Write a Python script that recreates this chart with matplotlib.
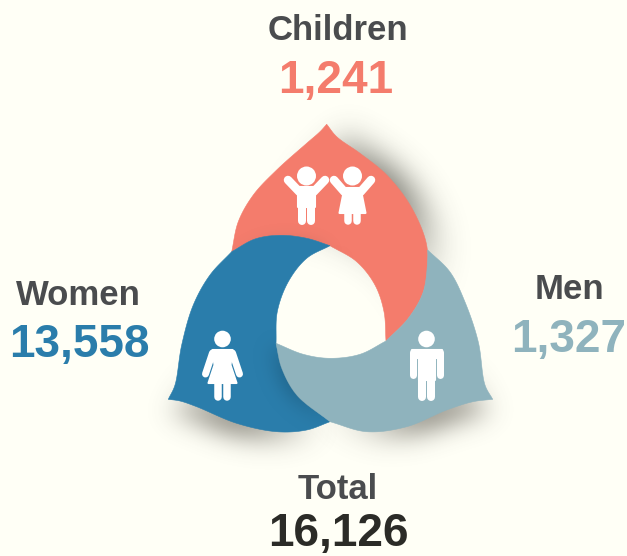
import numpy as np
import matplotlib
matplotlib.use("Agg")
import matplotlib.pyplot as plt
from matplotlib.path import Path
from matplotlib.patches import PathPatch, Circle, Polygon

### DATA

labels = ["Children", "Women", "Men", "Total"]
values = [1241, 13558, 1327, 16126]
value_colors = ["#f47c6c", "#2a7dab", "#8fb3bd", "#2b2b27"]

BG = "#fffff6"
RED, BLUE, TEAL = "#f47c6c", "#2a7dab", "#8fb3bd"
W, H = 627, 556

plt.rcParams["font.family"] = ["Liberation Sans", "DejaVu Sans"]

### UTIL

def spline(pts, n=24):
    """Centripetal Catmull-Rom curve through the given points."""
    p = np.array(pts, dtype=float)
    p = np.vstack([2 * p[0] - p[1], p, 2 * p[-1] - p[-2]])
    out = []
    for i in range(1, len(p) - 2):
        p0, p1, p2, p3 = p[i - 1], p[i], p[i + 1], p[i + 2]
        t0 = 0.0
        t1 = t0 + np.linalg.norm(p1 - p0) ** 0.5
        t2 = t1 + np.linalg.norm(p2 - p1) ** 0.5
        t3 = t2 + np.linalg.norm(p3 - p2) ** 0.5
        t = np.linspace(t1, t2, n, endpoint=False)[:, None]
        a1 = (t1 - t) / (t1 - t0) * p0 + (t - t0) / (t1 - t0) * p1
        a2 = (t2 - t) / (t2 - t1) * p1 + (t - t1) / (t2 - t1) * p2
        a3 = (t3 - t) / (t3 - t2) * p2 + (t - t2) / (t3 - t2) * p3
        b1 = (t2 - t) / (t2 - t0) * a1 + (t - t0) / (t2 - t0) * a2
        b2 = (t3 - t) / (t3 - t1) * a2 + (t - t1) / (t3 - t1) * a3
        out.append((t2 - t) / (t2 - t1) * b1 + (t - t1) / (t2 - t1) * b2)
    out.append(p[-2][None, :])
    return np.vstack(out)

def outline(*segments):
    return np.vstack([spline(s) for s in segments])

def blur(a, sigma):
    r = int(3 * sigma)
    k = np.exp(-0.5 * (np.arange(-r, r + 1) / sigma) ** 2)
    k /= k.sum()
    a = np.array([np.convolve(row, k, mode="same") for row in a])
    return np.array([np.convolve(col, k, mode="same") for col in a.T]).T

yy, xx = np.mgrid[0:H, 0:W]
grid = np.column_stack([xx.ravel() + 0.5, yy.ravel() + 0.5])

def mask_of(poly, dx=0, dy=0):
    return Path(poly + [dx, dy]).contains_points(grid).reshape(H, W).astype(float)

def blob(cx, cy, sx, sy):
    return np.exp(-0.5 * (((xx - cx) / sx) ** 2 + ((yy - cy) / sy) ** 2))

def overlay(ax, alpha, color, clip=None, zorder=1):
    rgba = np.zeros((H, W, 4))
    rgba[..., :3] = matplotlib.colors.to_rgb(color)
    rgba[..., 3] = np.clip(alpha, 0, 1)
    im = ax.imshow(rgba, extent=(0, W, H, 0), zorder=zorder, interpolation="bilinear", aspect="auto")
    if clip is not None:
        im.set_clip_path(clip)

def limb(ax, pts, width):
    x, y = zip(*pts)
    ax.plot(x, y, color="white", lw=width * 0.72, solid_capstyle="round",
            solid_joinstyle="round", zorder=6)

def poly(ax, pts):
    ax.add_patch(Polygon(pts, closed=True, fc="white", ec="white", lw=1.5, joinstyle="round", zorder=6))

def head(ax, x, y, r):
    ax.add_patch(Circle((x, y), r, fc="white", ec="none", zorder=6))

def draw_man(ax, x):
    head(ax, x, 339, 8.3)
    poly(ax, [(x - 15, 350), (x + 15, 350), (x + 15, 358), (x + 8, 358), (x + 8, 380), (x - 8, 380), (x - 8, 358), (x - 15, 358)])
    limb(ax, [(x - 13.5, 352), (x - 13.5, 375)], 7)
    limb(ax, [(x + 13.5, 352), (x + 13.5, 375)], 7)
    limb(ax, [(x - 4.5, 375), (x - 4.5, 397)], 8)
    limb(ax, [(x + 4.5, 375), (x + 4.5, 397)], 8)

def draw_woman(ax, x):
    head(ax, x, 339, 8.3)
    poly(ax, [(x - 10, 350), (x + 10, 350), (x + 8, 365), (x + 14, 383), (x - 14, 383), (x - 8, 365)])
    limb(ax, [(x - 10, 353), (x - 17, 374)], 7)
    limb(ax, [(x + 10, 353), (x + 17, 374)], 7)
    limb(ax, [(x - 4.5, 380), (x - 4.5, 397)], 7.5)
    limb(ax, [(x + 4.5, 380), (x + 4.5, 397)], 7.5)

def draw_boy(ax, x):
    head(ax, x, 176, 9.5)
    limb(ax, [(x - 18.5, 180), (x - 7, 192)], 8.5)
    limb(ax, [(x + 18.5, 180), (x + 7, 192)], 8.5)
    poly(ax, [(x - 8.5, 187), (x + 8.5, 187), (x + 8.5, 207), (x - 8.5, 207)])
    limb(ax, [(x - 4.8, 200), (x - 4.8, 220.5)], 8)
    limb(ax, [(x + 4.8, 200), (x + 4.8, 220.5)], 8)

def draw_girl(ax, x):
    head(ax, x, 176, 9.5)
    limb(ax, [(x - 18.5, 180), (x - 8, 192)], 8.5)
    limb(ax, [(x + 18.5, 180), (x + 8, 192)], 8.5)
    poly(ax, [(x - 8, 188), (x + 8, 188), (x + 13, 213), (x - 13, 213)])
    limb(ax, [(x - 4.5, 211), (x - 4.5, 220.5)], 7.5)
    limb(ax, [(x + 4.5, 211), (x + 4.5, 220.5)], 7.5)

### SHAPES (image pixel positions)

red_right = [(326.7, 124.3), (336.7, 136.7), (360, 153.3), (386.7, 175), (410, 205), (425, 238.3),
             (427.7, 258.3), (423.3, 291.7), (408.3, 318.3), (386, 341)]
red_inner = [(386, 341), (384, 311.7), (375, 285), (356.7, 261.7), (330, 245.7)]
blue_top = [(330, 245.7), (306.7, 238.3), (280, 235.3), (255, 239), (231.7, 251.7)]
red_left = [(231.7, 251.7), (238.3, 221.7), (253.3, 195), (276.7, 170), (306.7, 143.3), (320, 131.7), (326.7, 124.3)]
blue_left = [(168.3, 399.3), (175, 385), (181.7, 345), (193.3, 305), (210, 275), (231.7, 251.7)]
blue_inner = [(330, 245.7), (306.7, 258.3), (288.3, 281.7), (277.3, 311.7), (276, 343.3)]
teal_edge = [(276, 343.3), (281.7, 368.3), (296.7, 395), (330, 421.7)]
blue_bottom = [(330, 421.7), (306.7, 430), (276.7, 431.7), (236.7, 423.3), (196.7, 406.7), (180, 401), (168.3, 399.3)]
teal_right = [(492.7, 399.3), (485, 385), (478.3, 342), (465, 302), (450, 272), (427.7, 250)]
teal_top = [(427.7, 250), (427.7, 258.3), (423.3, 291.7), (408.3, 318.3), (386, 341)]
teal_inner = [(386, 341), (360, 354.3), (330, 358.3), (303.3, 354.3), (276, 343.3)]
teal_bottom = [(330, 421.7), (366.7, 431.7), (406.7, 426.7), (446.7, 410), (473, 401.7), (492.7, 399.3)]

red = outline(red_right, red_inner, blue_top, red_left)
blue = outline(blue_left, blue_top[::-1], blue_inner, teal_edge, blue_bottom)
teal = outline(teal_right, teal_top, teal_inner, teal_edge, teal_bottom)

### PLOT

fig = plt.figure(figsize=(W / 100, H / 100), dpi=100, facecolor=BG)
ax = fig.add_axes([0, 0, 1, 1])
ax.set_xlim(0, W)
ax.set_ylim(H, 0)
ax.axis("off")

# soft drop shadows behind the petals
overlay(ax, 0.68 * blur(mask_of(red, 18, 5), 16) * blob(392, 170, 52, 62), "#3c3c34")
overlay(ax, 0.6 * blur(mask_of(blue, 0, 14), 14) * blob(220, 428, 52, 26), "#4a463c")
overlay(ax, 0.6 * blur(mask_of(teal, 0, 14), 14) * blob(445, 423, 50, 26), "#4a463c")

patches = {}
for name, shape, col in [("red", red, RED), ("blue", blue, BLUE), ("teal", teal, TEAL)]:
    patches[name] = PathPatch(Path(shape), fc=col, ec=col, lw=0.4, zorder=2)
    ax.add_patch(patches[name])

# shading where one petal tucks under the next
overlay(ax, 0.5 * blur(mask_of(blue, 0, 8), 9) * blob(318, 232, 50, 28),
        "#6e4a44", clip=patches["red"], zorder=3)
overlay(ax, 0.4 * blur(mask_of(blue, 16, 10), 6) * blob(368, 270, 16, 24),
        "#8a5048", clip=patches["red"], zorder=3)
overlay(ax, 0.6 * blur(mask_of(teal, -8, 0), 9) * blob(288, 385, 26, 48),
        "#1c5a7c", clip=patches["blue"], zorder=3)

draw_boy(ax, 306.5)
draw_girl(ax, 352.5)
draw_woman(ax, 222.5)
draw_man(ax, 426.5)

# labels and numbers, placed by baseline
label_pos = [(338, 40), (78, 305), (569, 299), (338, 499)]
value_pos = [(336, 93), (79, 357), (569, 352), (338, 546)]
for lab, val, col, lp, vp in zip(labels, values, value_colors, label_pos, value_pos):
    ax.text(lp[0], lp[1], lab, ha="center", va="baseline", fontsize=25,
            fontweight="bold", color="#4a4c4e", zorder=7)
    ax.text(vp[0], vp[1], f"{val:,}", ha="center", va="baseline", fontsize=33,
            fontweight="bold", color=col, zorder=7)

fig.savefig("out.png", dpi=100, facecolor=BG)
